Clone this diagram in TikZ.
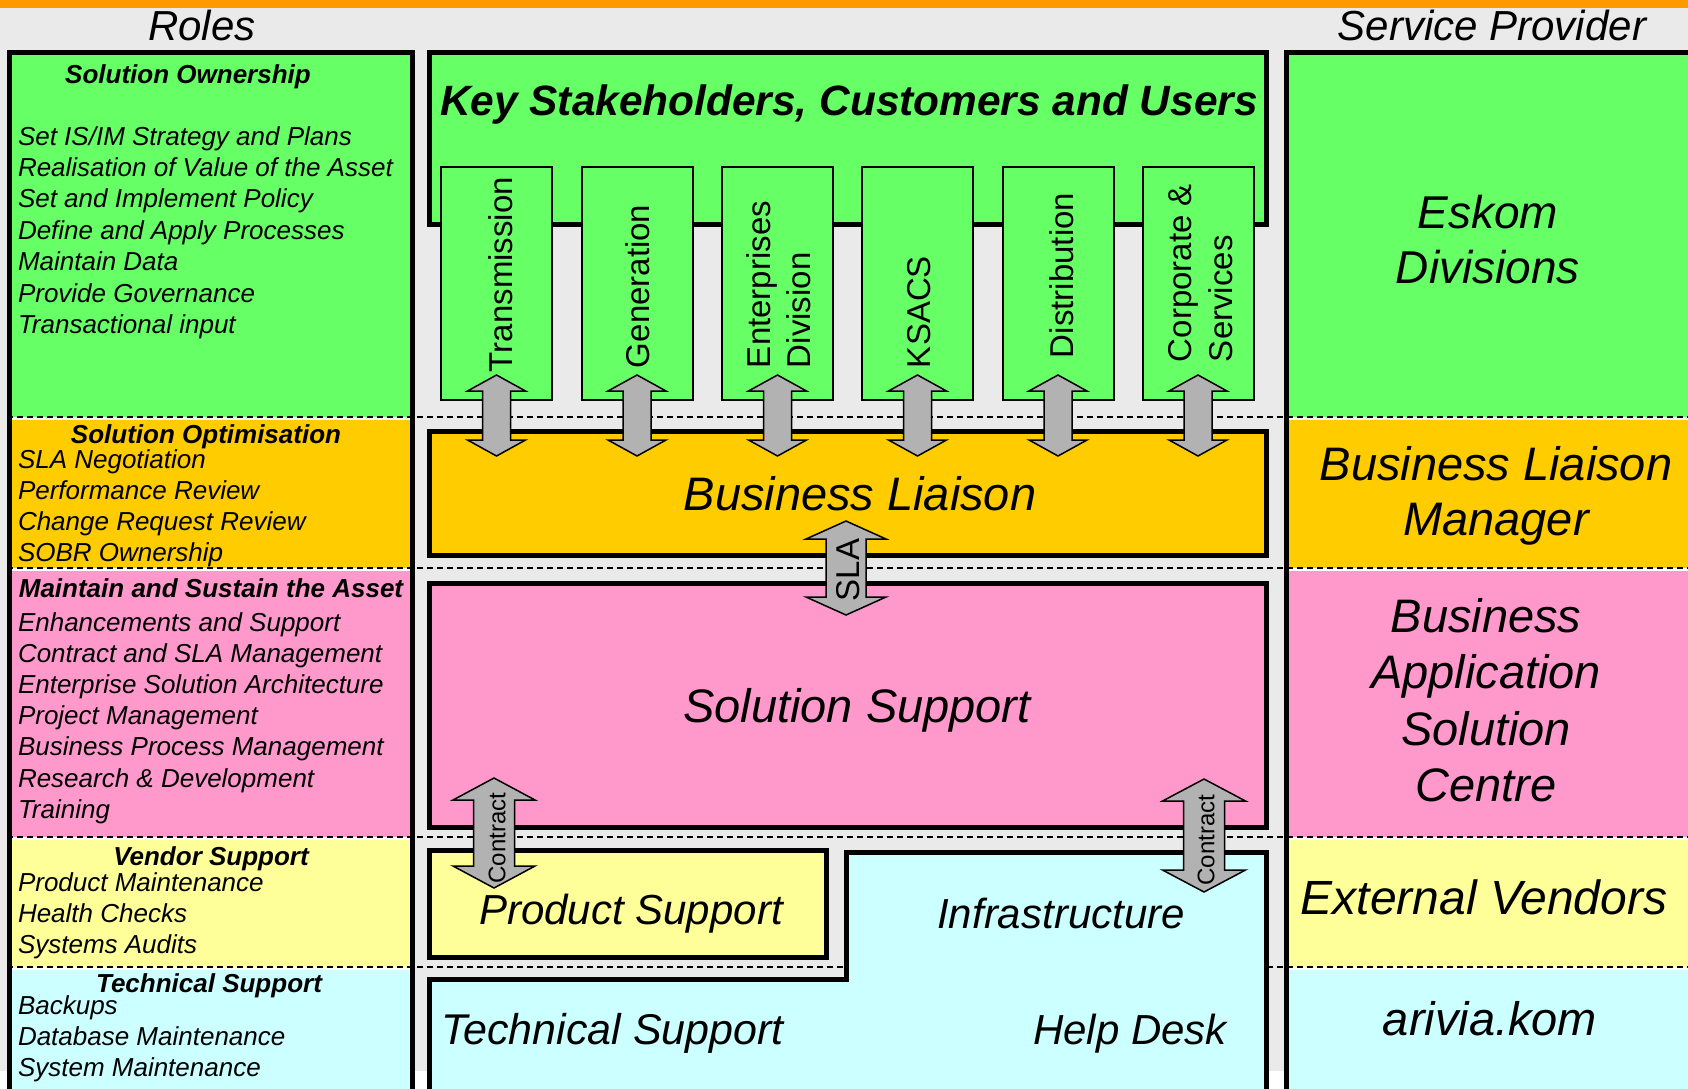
\documentclass[tikz,border=0pt]{standalone}
\usepackage{fontspec}
\setmainfont{Liberation Sans}
\usetikzlibrary{calc}

\definecolor{bandgreen}{HTML}{66FF66}
\definecolor{bandorange}{HTML}{FFCC00}
\definecolor{bandpink}{HTML}{FF99CC}
\definecolor{bandyellow}{HTML}{FFFF99}
\definecolor{bandcyan}{HTML}{CCFFFF}
\definecolor{paper}{HTML}{EAEAEA}
\definecolor{arrowgrey}{HTML}{B2B2B2}
\definecolor{topbar}{HTML}{FF9900}

\newcommand\fs[1]{\fontsize{#1}{#1}\selectfont}

\tikzset{
  txt/.style={inner sep=0pt, outer sep=0pt, anchor=base},
  colhead/.style={txt, font=\fs{42}\itshape},
  rolehead/.style={txt, font=\fs{26}\bfseries\itshape},
  roleitem/.style={txt, anchor=base west, font=\fs{26}\itshape},
  layerbox/.style={draw=black, line width=5pt, inner sep=0pt, outer sep=0pt},
  divbox/.style={draw=black, line width=2pt, fill=bandgreen, inner sep=0pt, outer sep=0pt,
                 minimum width=111pt, minimum height=233pt},
  divtext/.style={inner sep=0pt, outer sep=0pt, rotate=90, anchor=base west, font=\fs{33}},
  arrowtext/.style={inner sep=0pt, outer sep=0pt, rotate=90, anchor=center},
  blockarrow/.style={draw=black, line width=1.5pt, fill=arrowgrey, line join=miter},
  separator/.style={dash pattern=on 6pt off 4pt, line width=1.5pt},
}

% vertical double block arrow: top tip, bottom tip, shaft half width, head half width, head length
\newcommand\blockarrow[5]{%
  \draw[blockarrow] let \p1=(#1), \p2=(#2) in
    (\x1,\y1) -- (\x1+#4,\y1-#5) -- (\x1+#3,\y1-#5) -- (\x1+#3,\y2+#5) -- (\x1+#4,\y2+#5)
    -- (\x1,\y2) -- (\x1-#4,\y2+#5) -- (\x1-#3,\y2+#5) -- (\x1-#3,\y1-#5) -- (\x1-#4,\y1-#5) -- cycle;}

% left aligned list of role items, one baseline per line
\newcommand\rolelist[5]{%
  \foreach \t [count=\i from 0] in {#5}
    \node[roleitem] (#1-\i) at (#2, #3+\i*#4) {\t};}

% centred stack of italic lines
\newcommand\stacklines[6]{%
  \foreach \t [count=\i from 0] in {#6}
    \node[txt, font=\fs{#5}\itshape] (#1-\i) at (#2, #3+\i*#4) {\t};}

\begin{document}
\begin{tikzpicture}[x=1pt,y=-1pt]
\useasboundingbox (0,0) rectangle (1688,1088);
\clip (0,0) rectangle (1688,1088);

% page background and top bar
\fill[paper] (0,0) rectangle (1688,1071);
\fill[white] (0,1071) rectangle (1688,1088);
\fill[topbar] (0,0) rectangle (1688,8);

% coloured layers of the two side columns
\foreach \xa/\xb in {9.5/412.5, 1286.5/1690} {
  \fill[bandgreen]  (\xa,52)  rectangle (\xb,417);
  \fill[bandorange] (\xa,417) rectangle (\xb,568);
  \fill[bandpink]   (\xa,568) rectangle (\xb,837);
  \fill[bandyellow] (\xa,837) rectangle (\xb,967);
  \fill[bandcyan]   (\xa,967) rectangle (\xb,1100);
}

% layer separators
\foreach \y in {417,568,837,967} {
  \draw[white, line width=3pt] (12,\y+1) -- (410,\y+1);
  \draw[white, line width=3pt] (1289,\y+1) -- (1688,\y+1);
  \draw[separator] (7,\y) -- (1688,\y);
}

% column frames
\draw[line width=5pt] (9.5,1100) -- (9.5,52) -- (412.5,52) -- (412.5,1100);
\draw[line width=5pt] (1286.5,1100) -- (1286.5,52) -- (1690,52) -- (1690,1100);

% column headings
\node[colhead] (roles) at (202,40) {Roles};
\node[colhead] (provider) at (1492,40) {Service Provider};

% middle column layers
\node[layerbox, fill=bandgreen, minimum width=837pt, minimum height=172pt] (key) at (848,138.5) {};
\foreach \k/\x in {1/496.5, 2/637, 3/777.5, 4/917.5, 5/1058, 6/1198}
  \node[divbox] (d\k) at (\x,283.5) {};
\node[layerbox, fill=bandorange, minimum width=837pt, minimum height=124pt] (bl) at (848,493.5) {};
\node[layerbox, fill=bandpink, minimum width=837pt, minimum height=244pt] (ss) at (848,705.5) {};
\node[layerbox, fill=bandyellow, minimum width=397pt, minimum height=107pt] (ps) at (628,904) {};
\draw[line width=5pt, fill=bandcyan] (429.5,1100) -- (429.5,979.5) -- (846,979.5) -- (846,852.5)
  -- (1266.5,852.5) -- (1266.5,1100);

% arrows between divisions and business liaison
\foreach \k in {1,...,6} {
  \coordinate (at\k) at ($(d\k.south)+(0,-25)$);
  \coordinate (ab\k) at ($(d\k.south)+(0,56)$);
  \blockarrow{at\k}{ab\k}{14pt}{29pt}{16pt}
}

% SLA arrow
\coordinate (slaT) at ($(bl.south)+(-2,-34.5)$);
\coordinate (slaB) at ($(ss.north)+(-2,31.5)$);
\blockarrow{slaT}{slaB}{20pt}{40pt}{18pt}
\node[arrowtext, font=\fs{33}] (sla) at ($(slaT)!0.5!(slaB)+(2,2)$) {SLA};

% contract arrows
\coordinate (c1T) at ($(ss.south west)+(64.5,-49.5)$);
\coordinate (c1B) at ($(ps.north west)+(64.5,37.5)$);
\blockarrow{c1T}{c1B}{20.5pt}{41pt}{22pt}
\node[arrowtext, font=\fs{24}] (contract1) at ($(c1T)!0.5!(c1B)+(3,5)$) {Contract};
\coordinate (c2T) at ($(ss.south east)+(-62.5,-48.5)$);
\coordinate (c2B) at ($(ss.south east)+(-62.5,64.5)$);
\blockarrow{c2T}{c2B}{20.5pt}{41.5pt}{22pt}
\node[arrowtext, font=\fs{24}] (contract2) at ($(c2T)!0.5!(c2B)+(2,4.5)$) {Contract};

% middle column texts
\node[txt, font=\fs{42.4}\bfseries\itshape] (keytitle) at (849,115) {Key Stakeholders, Customers and Users};
\node[divtext] (t1) at (512,372) {Transmission};
\node[divtext] (t2) at (649,368) {Generation};
\node[divtext] (t3a) at (770,368) {Enterprises};
\node[divtext] (t3b) at (810,368) {Division};
\node[divtext] (t4) at (930,368) {KSACS};
\node[divtext] (t5) at (1073,358) {Distribution};
\node[divtext] (t6a) at (1191,362) {Corporate \&};
\node[divtext] (t6b) at (1232,362) {Services};
\node[txt, font=\fs{47}\itshape] (bltext) at (860,510) {Business Liaison};
\node[txt, font=\fs{47}\itshape] (sstext) at (857,722) {Solution Support};
\node[txt, font=\fs{42}\itshape] (pstext) at (631,924) {Product Support};
\node[txt, font=\fs{42}\itshape] (infra) at (1061,928) {Infrastructure};
\node[txt, anchor=base west, font=\fs{43}\itshape] (techsup) at (441,1044) {Technical Support};
\node[txt, font=\fs{42}\itshape] (helpdesk) at (1130,1044) {Help Desk};

% roles
\node[rolehead] (own) at (188,83) {Solution Ownership};
\rolelist{own}{18}{145}{31.4}{Set IS/IM Strategy and Plans, Realisation of Value of the Asset,
  Set and Implement Policy, Define and Apply Processes, Maintain Data, Provide Governance,
  Transactional input}
\node[rolehead] (opt) at (206,443) {Solution Optimisation};
\rolelist{opt}{18}{468}{31.3}{SLA Negotiation, Performance Review, Change Request Review, SOBR Ownership}
\node[rolehead] (mnt) at (211,597) {Maintain and Sustain the Asset};
\rolelist{mnt}{18}{631}{31.2}{Enhancements and Support, Contract and SLA Management,
  Enterprise Solution Architecture, Project Management, Business Process Management,
  Research \& Development, Training}
\node[rolehead] (ven) at (211,865) {Vendor Support};
\rolelist{ven}{18}{891}{31}{Product Maintenance, Health Checks, Systems Audits}
\node[rolehead] (tec) at (209,992) {Technical Support};
\rolelist{tec}{18}{1014}{31}{Backups, Database Maintenance, System Maintenance}

% service providers
\stacklines{eskom}{1488}{228}{55}{46}{Eskom, Divisions}
\stacklines{blm}{1496}{480}{55}{47}{Business Liaison, Manager}
\stacklines{basc}{1486}{632}{56.5}{47}{Business, Application, Solution, Centre}
\stacklines{ext}{1484}{914}{0}{48}{External Vendors}
\stacklines{ark}{1490}{1035}{0}{47}{arivia.kom}
\end{tikzpicture}
\end{document}
